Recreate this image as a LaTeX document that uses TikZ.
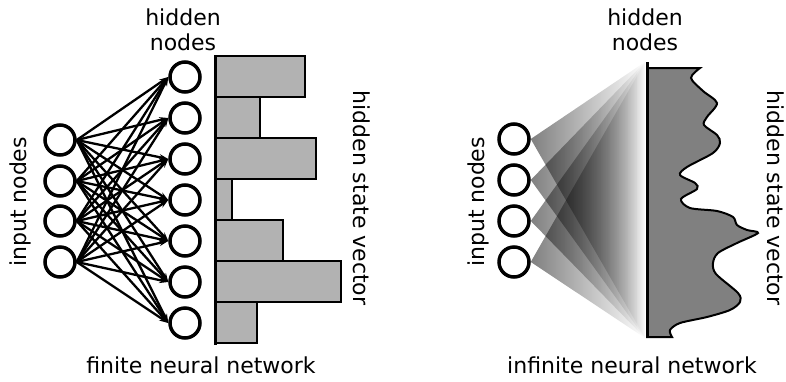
\documentclass[tikz,border=0pt]{standalone}
\usepackage{fontspec}
\setmainfont{DejaVu Sans}
\usetikzlibrary{fadings,arrows.meta}

\begin{document}
\begin{tikzpicture}[x=1pt,y=-1pt,
    every node/.style={font=\fontsize{22}{25}\selectfont},
    unit/.style={shape=circle,draw=black,fill=white,line width=3.5pt,minimum size=30pt,inner sep=0pt},
    link/.style={line width=2.3pt,-{Stealth[length=9pt,width=6pt]}},
    bar/.style={draw=black,line width=2.5pt,fill=black!30},
    fan/.style={fill=black,fill opacity=0.5,path fading=east}]
    \useasboundingbox (0,0) rectangle (786,381);

    % finite network
    \node[unit] (i1) at (60,140) {};
    \node[unit] (i2) at (60,181) {};
    \node[unit] (i3) at (60,221) {};
    \node[unit] (i4) at (60,262) {};
    \node[unit] (h1) at (185,77) {};
    \node[unit] (h2) at (185,118) {};
    \node[unit] (h3) at (185,159) {};
    \node[unit] (h4) at (185,200) {};
    \node[unit] (h5) at (185,241) {};
    \node[unit] (h6) at (185,282) {};
    \node[unit] (h7) at (185,323) {};
    \foreach \i in {1,...,4}
        \foreach \h in {1,...,7}
            \draw[link] (i\i.east) -- (h\h.west);

    \draw[bar] (215,56) rectangle (305,97);
    \draw[bar] (215,97) rectangle (260,138);
    \draw[bar] (215,138) rectangle (316,179);
    \draw[bar] (215,179) rectangle (232,220);
    \draw[bar] (215,220) rectangle (283,261);
    \draw[bar] (215,261) rectangle (341,302);
    \draw[bar] (215,302) rectangle (257,343);
    \draw[line width=3pt] (215,55) -- (215,345);

    \node[align=center] (hidL) at (183,30) {hidden\\nodes};
    \node[rotate=90] (inL) at (20,202) {input nodes};
    \node[rotate=-90] (vecL) at (362,198) {hidden state vector};
    \node (capL) at (201,365) {finite neural network};

    % infinite network
    \coordinate (top) at (645,62);
    \coordinate (bot) at (645,338);
    \coordinate (axtop) at (647,62);
    \coordinate (axbot) at (647,338);
    \node[unit] (r1) at (514,139) {};
    \node[unit] (r2) at (514,180) {};
    \node[unit] (r3) at (514,221) {};
    \node[unit] (r4) at (514,262) {};
    \foreach \i in {1,...,4}
        \fill[fan] (r\i.east) -- (top) -- (bot) -- cycle;

    \draw[line width=2pt,fill=black!50] (647,68) -- plot[smooth,tension=0.5] coordinates {
        (700,68) (691,78) (703,91) (717,103) (707,117) (704,125) (717,135) (720,143)
        (713,153) (687,167) (680,175) (695,183) (697,189) (681,199) (690,208) (717,211)
        (733,217) (737,225) (747,230) (758,233) (737,243) (718,253) (713,263) (716,274)
        (738,293) (740,302) (730,310) (707,317) (680,323) (670,330) (672,337)}
        -- (647,337) -- cycle;
    \draw[line width=3pt] (axtop) -- (axbot);

    \node[align=center] (hidR) at (645,30) {hidden\\nodes};
    \node[rotate=90] (inR) at (478,202) {input nodes};
    \node[rotate=-90] (vecR) at (776,198) {hidden state vector};
    \node (capR) at (632,365) {infinite neural network};
\end{tikzpicture}
\end{document}
